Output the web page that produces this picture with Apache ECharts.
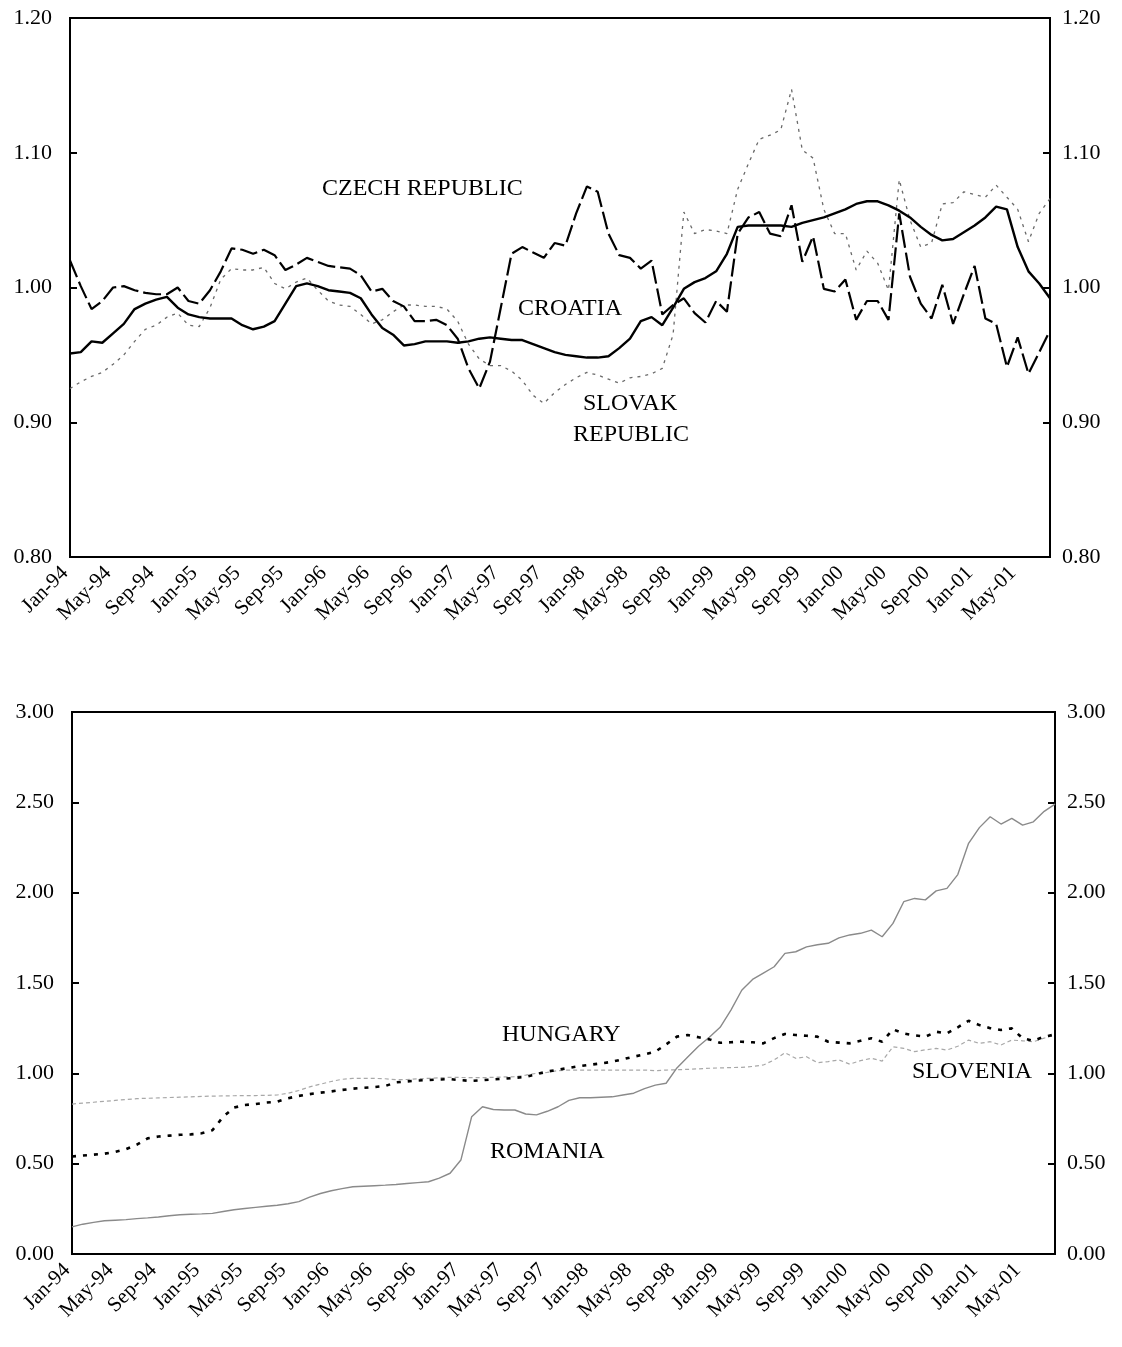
<!DOCTYPE html>
<html>
<head>
<meta charset="utf-8">
<script src="https://cdn.jsdelivr.net/npm/echarts@6/dist/echarts.min.js"></script>
<style>
  html, body { margin: 0; padding: 0; background: #fff; }
  #chart { width: 1122px; height: 1347px; }
</style>
</head>
<body>
<div id="chart"></div>
<script>
// Categories: monthly, Jan-94 .. Aug-01
const months = [
  "Jan-94","Feb-94","Mar-94","Apr-94","May-94","Jun-94","Jul-94","Aug-94","Sep-94","Oct-94","Nov-94","Dec-94",
  "Jan-95","Feb-95","Mar-95","Apr-95","May-95","Jun-95","Jul-95","Aug-95","Sep-95","Oct-95","Nov-95","Dec-95",
  "Jan-96","Feb-96","Mar-96","Apr-96","May-96","Jun-96","Jul-96","Aug-96","Sep-96","Oct-96","Nov-96","Dec-96",
  "Jan-97","Feb-97","Mar-97","Apr-97","May-97","Jun-97","Jul-97","Aug-97","Sep-97","Oct-97","Nov-97","Dec-97",
  "Jan-98","Feb-98","Mar-98","Apr-98","May-98","Jun-98","Jul-98","Aug-98","Sep-98","Oct-98","Nov-98","Dec-98",
  "Jan-99","Feb-99","Mar-99","Apr-99","May-99","Jun-99","Jul-99","Aug-99","Sep-99","Oct-99","Nov-99","Dec-99",
  "Jan-00","Feb-00","Mar-00","Apr-00","May-00","Jun-00","Jul-00","Aug-00","Sep-00","Oct-00","Nov-00","Dec-00",
  "Jan-01","Feb-01","Mar-01","Apr-01","May-01","Jun-01","Jul-01","Aug-01"
];

// Top panel
const czech = [
  0.951,0.952,0.960,0.959,0.966,0.973,0.984,0.988,0.991,0.993,0.985,0.980,
  0.978,0.977,0.977,0.977,0.972,0.969,0.971,0.975,0.988,1.001,1.003,1.001,
  0.998,0.997,0.996,0.992,0.980,0.970,0.965,0.957,0.958,0.960,0.960,0.960,
  0.959,0.960,0.962,0.963,0.962,0.961,0.961,0.958,0.955,0.952,0.950,0.949,
  0.948,0.948,0.949,0.955,0.962,0.975,0.978,0.972,0.985,0.999,1.004,1.007,
  1.012,1.025,1.045,1.046,1.046,1.046,1.046,1.045,1.048,1.050,1.052,1.055,
  1.058,1.062,1.064,1.064,1.061,1.057,1.052,1.045,1.039,1.035,1.036,1.041,
  1.046,1.052,1.060,1.058,1.030,1.012,1.003,0.992
];
const croatia = [
  1.020,1.001,0.984,0.990,1.000,1.001,0.998,0.996,0.995,0.995,1.000,0.990,
  0.988,0.998,1.012,1.029,1.028,1.025,1.028,1.024,1.013,1.017,1.022,1.019,
  1.016,1.015,1.014,1.009,0.997,0.999,0.990,0.986,0.975,0.975,0.976,0.972,
  0.962,0.940,0.925,0.945,0.985,1.025,1.030,1.026,1.022,1.033,1.031,1.055,
  1.075,1.071,1.040,1.024,1.022,1.014,1.020,0.980,0.987,0.992,0.981,0.974,
  0.990,0.982,1.040,1.052,1.056,1.040,1.038,1.061,1.019,1.038,0.999,0.997,
  1.006,0.976,0.990,0.990,0.976,1.055,1.008,0.988,0.977,1.002,0.973,0.995,
  1.016,0.977,0.973,0.941,0.963,0.936,0.952,0.968
];
const slovak = [
  0.925,0.930,0.934,0.937,0.943,0.950,0.960,0.969,0.972,0.978,0.981,0.972,
  0.971,0.985,1.006,1.014,1.013,1.013,1.015,1.003,0.999,1.004,1.007,0.998,
  0.990,0.987,0.986,0.980,0.973,0.976,0.982,0.987,0.987,0.986,0.986,0.984,
  0.975,0.958,0.947,0.942,0.942,0.938,0.931,0.920,0.914,0.922,0.928,0.933,
  0.937,0.935,0.932,0.929,0.933,0.934,0.936,0.940,0.965,1.056,1.040,1.043,
  1.042,1.040,1.073,1.092,1.110,1.113,1.117,1.147,1.102,1.096,1.058,1.040,
  1.040,1.013,1.027,1.018,0.998,1.080,1.050,1.030,1.033,1.062,1.063,1.071,
  1.069,1.067,1.076,1.067,1.058,1.034,1.055,1.066
];

// Bottom panel
const hungary = [
  0.540,0.545,0.550,0.555,0.565,0.580,0.605,0.640,0.650,0.655,0.660,0.662,
  0.668,0.685,0.760,0.810,0.825,0.830,0.838,0.843,0.862,0.875,0.885,0.893,
  0.900,0.908,0.915,0.920,0.924,0.930,0.950,0.955,0.960,0.963,0.966,0.968,
  0.962,0.958,0.962,0.966,0.970,0.975,0.980,0.995,1.010,1.020,1.030,1.040,
  1.048,1.055,1.064,1.078,1.092,1.105,1.120,1.160,1.203,1.212,1.200,1.188,
  1.169,1.172,1.175,1.172,1.166,1.195,1.218,1.212,1.208,1.203,1.175,1.170,
  1.166,1.180,1.194,1.175,1.243,1.221,1.210,1.203,1.230,1.221,1.255,1.291,
  1.267,1.250,1.240,1.249,1.194,1.180,1.203,1.215
];
const slovenia = [
  0.830,0.835,0.840,0.845,0.850,0.855,0.860,0.862,0.864,0.866,0.868,0.870,
  0.872,0.874,0.875,0.876,0.877,0.877,0.878,0.880,0.890,0.905,0.925,0.940,
  0.955,0.967,0.972,0.972,0.972,0.970,0.965,0.966,0.970,0.972,0.976,0.978,
  0.977,0.976,0.976,0.978,0.980,0.981,0.990,1.000,1.005,1.015,1.018,1.018,
  1.018,1.018,1.018,1.018,1.018,1.018,1.015,1.018,1.020,1.022,1.025,1.028,
  1.030,1.032,1.033,1.038,1.046,1.074,1.114,1.083,1.092,1.059,1.065,1.074,
  1.051,1.070,1.083,1.068,1.147,1.138,1.120,1.130,1.138,1.129,1.150,1.184,
  1.166,1.175,1.157,1.184,1.180,1.175,1.195,1.212
];
const romania = [
  0.150,0.165,0.175,0.184,0.187,0.190,0.196,0.200,0.205,0.212,0.217,0.220,
  0.222,0.225,0.235,0.245,0.252,0.258,0.264,0.270,0.278,0.290,0.315,0.335,
  0.350,0.362,0.372,0.375,0.378,0.381,0.385,0.390,0.395,0.400,0.420,0.447,
  0.520,0.760,0.815,0.800,0.797,0.797,0.775,0.770,0.790,0.815,0.850,0.865,
  0.865,0.868,0.870,0.880,0.890,0.915,0.935,0.945,1.030,1.090,1.150,1.200,
  1.255,1.350,1.460,1.520,1.555,1.590,1.664,1.673,1.700,1.712,1.720,1.750,
  1.766,1.775,1.793,1.756,1.830,1.950,1.968,1.960,2.010,2.024,2.100,2.273,
  2.360,2.420,2.380,2.411,2.374,2.392,2.450,2.490
];

const topAxis = { min: 0.80, max: 1.20, interval: 0.10 };
const bottomAxis = { min: 0.00, max: 3.00, interval: 0.50 };

const FONT = '"Liberation Serif", "DejaVu Serif", "Times New Roman", serif';

function xAxisFor(gridIndex) {
  return {
    type: 'category', gridIndex, data: months, boundaryGap: false,
    axisLine: { show: true, lineStyle: { color: '#000', width: 2 } },
    axisTick: { show: false },
    splitLine: { show: false },
    axisLabel: {
      interval: 3, rotate: 45, margin: 8, padding: [0, 7, 0, 0],
      fontFamily: FONT, fontSize: 21, color: '#000'
    }
  };
}
function yAxesFor(gridIndex, ax) {
  const base = {
    type: 'value', gridIndex, min: ax.min, max: ax.max, interval: ax.interval,
    splitLine: { show: false },
    axisLine: { show: true, lineStyle: { color: '#000', width: 2 } },
    axisTick: { show: true, inside: true, length: 7, lineStyle: { color: '#000', width: 2 } },
    axisLabel: { fontFamily: FONT, fontSize: 22, color: '#000', formatter: v => v.toFixed(2) }
  };
  return [
    Object.assign({}, base, { position: 'left', axisLabel: Object.assign({}, base.axisLabel, { margin: 18 }) }),
    Object.assign({}, base, { position: 'right', axisLabel: Object.assign({}, base.axisLabel, { margin: 12 }) })
  ];
}

const chart = echarts.init(document.getElementById('chart'), null, { renderer: 'canvas' });

function txt(x, y, s) {
  return { type: 'text', left: x, top: y, style: { text: s, font: '24px ' + FONT, fill: '#000' } };
}

chart.setOption({
  animation: false,
  backgroundColor: '#fff',
  grid: [
    { left: 70, right: 72, top: 18, height: 539, show: true, borderColor: '#000', borderWidth: 2, backgroundColor: 'transparent' },
    { left: 72, right: 67, top: 712, height: 542, show: true, borderColor: '#000', borderWidth: 2, backgroundColor: 'transparent' }
  ],
  xAxis: [xAxisFor(0), xAxisFor(1)],
  yAxis: [...yAxesFor(0, topAxis), ...yAxesFor(1, bottomAxis)],
  series: [
    { name: 'SLOVAK REPUBLIC', type: 'line', xAxisIndex: 0, yAxisIndex: 0, data: slovak, showSymbol: false,
      lineStyle: { color: '#6a6a6a', width: 1.3, type: [3, 5] } },
    { name: 'CROATIA', type: 'line', xAxisIndex: 0, yAxisIndex: 0, data: croatia, showSymbol: false,
      lineStyle: { color: '#000', width: 2.2, type: [18, 5] } },
    { name: 'CZECH REPUBLIC', type: 'line', xAxisIndex: 0, yAxisIndex: 0, data: czech, showSymbol: false,
      lineStyle: { color: '#000', width: 2.4, type: 'solid' } },
    { name: 'SLOVENIA', type: 'line', xAxisIndex: 1, yAxisIndex: 2, data: slovenia, showSymbol: false,
      lineStyle: { color: '#a8a8a8', width: 1.2, type: [4, 3] } },
    { name: 'ROMANIA', type: 'line', xAxisIndex: 1, yAxisIndex: 2, data: romania, showSymbol: false,
      lineStyle: { color: '#8a8a8a', width: 1.4, type: 'solid' } },
    { name: 'HUNGARY', type: 'line', xAxisIndex: 1, yAxisIndex: 2, data: hungary, showSymbol: false,
      lineStyle: { color: '#000', width: 2.6, type: [4, 7] } }
  ],
  graphic: [
    txt(322, 177, 'CZECH REPUBLIC'),
    txt(518, 297, 'CROATIA'),
    txt(583, 392, 'SLOVAK'),
    txt(573, 423, 'REPUBLIC'),
    txt(502, 1023, 'HUNGARY'),
    txt(912, 1060, 'SLOVENIA'),
    txt(490, 1140, 'ROMANIA')
  ]
});
</script>
</body>
</html>
